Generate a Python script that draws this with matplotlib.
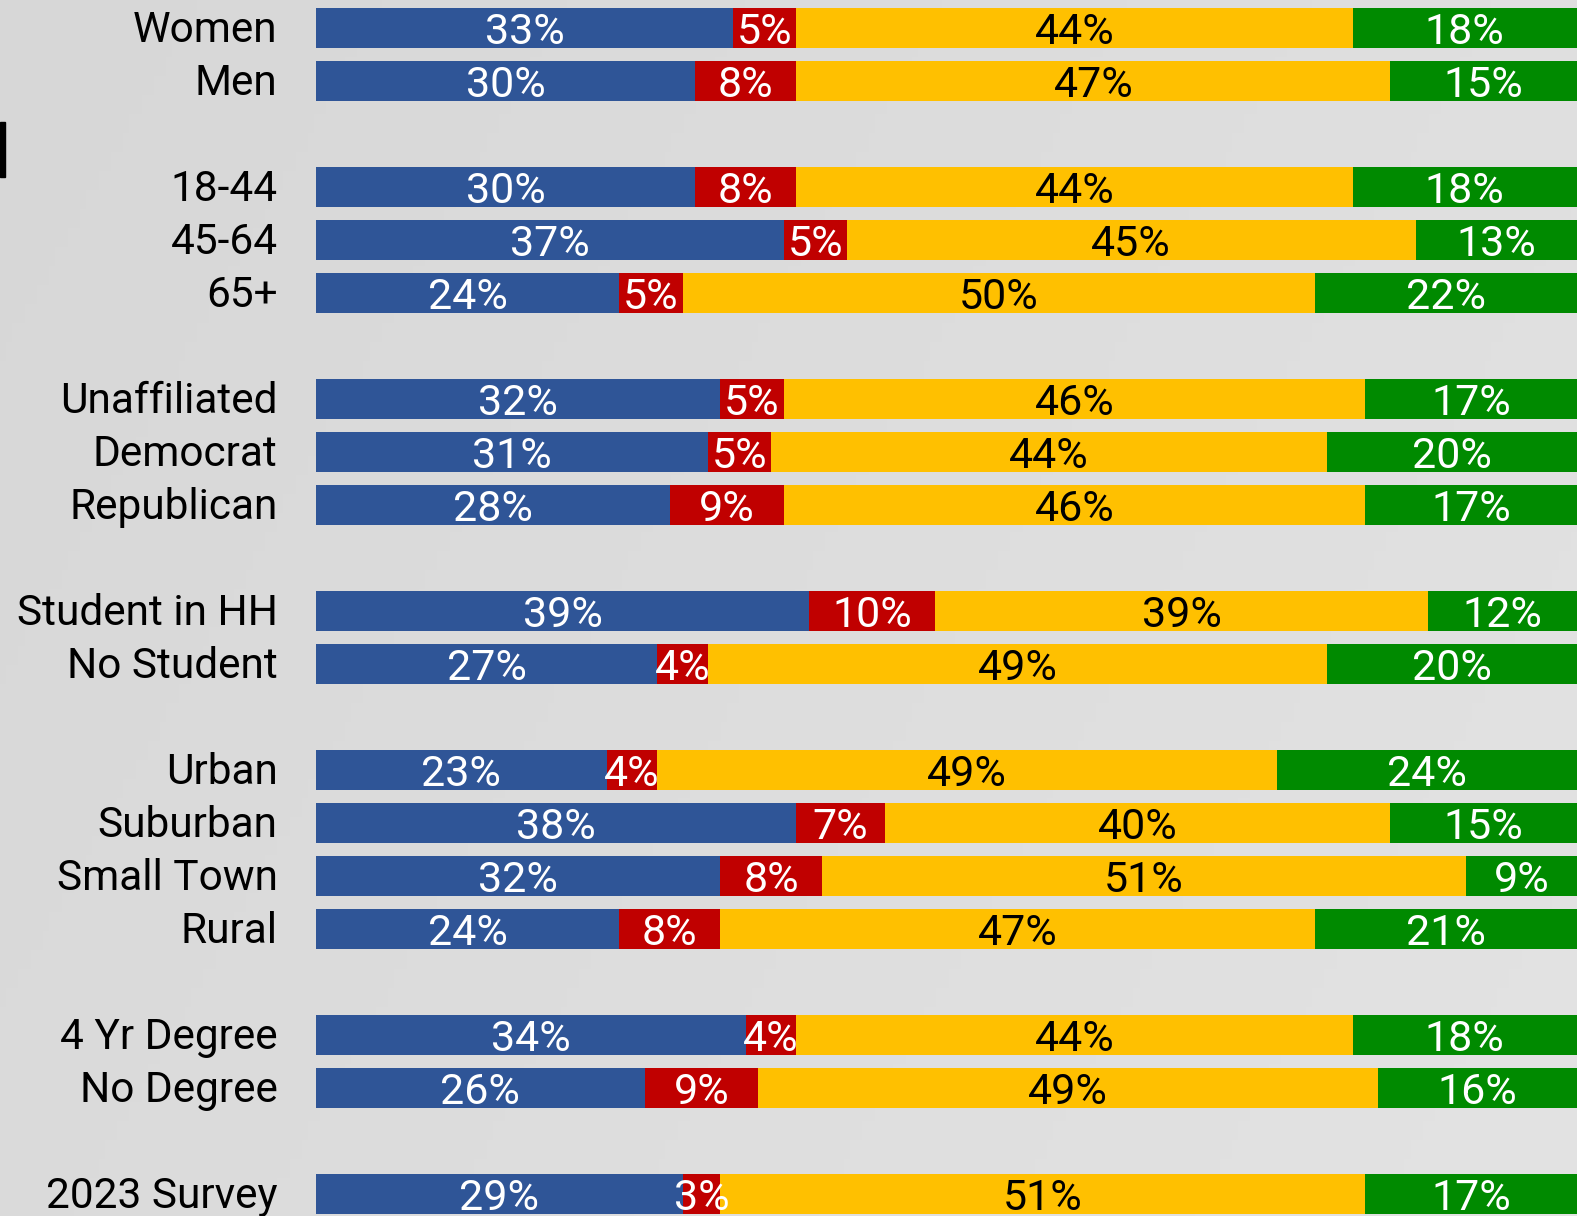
import matplotlib
matplotlib.use('Agg')
import matplotlib.pyplot as plt
from matplotlib.patches import Rectangle
import numpy as np

plt.rcParams['font.family'] = ['Roboto', 'DejaVu Sans']

# grupos demográficos (posição = linha do gráfico; linhas vazias separam grupos)
categorias = ['Women', 'Men', '18-44', '45-64', '65+', 'Unaffiliated', 'Democrat',
              'Republican', 'Student in HH', 'No Student', 'Urban', 'Suburban',
              'Small Town', 'Rural', '4 Yr Degree', 'No Degree', '2023 Survey']
linhas = [0, 1, 3, 4, 5, 7, 8, 9, 11, 12, 14, 15, 16, 17, 19, 20, 22]

azul = [33, 30, 30, 37, 24, 32, 31, 28, 39, 27, 23, 38, 32, 24, 34, 26, 29]
vermelho = [5, 8, 8, 5, 5, 5, 5, 9, 10, 4, 4, 7, 8, 8, 4, 9, 3]
amarelo = [44, 47, 44, 45, 50, 46, 44, 46, 39, 49, 49, 40, 51, 47, 44, 49, 51]
verde = [18, 15, 18, 13, 22, 17, 20, 17, 12, 20, 24, 15, 9, 21, 18, 16, 17]

series = [(azul, '#2F5597', 'white'),
          (vermelho, '#C00000', 'white'),
          (amarelo, '#FFC000', 'black'),
          (verde, '#008A00', 'white')]

W, H = 1577, 1216
fig = plt.figure(figsize=(W / 100, H / 100), dpi=100)

# fundo cinza com leve degradê
fundo = fig.add_axes([0, 0, 1, 1])
grad = np.linspace(0, 1, 256)
grad = grad[None, :] * 0.7 + np.linspace(0, 0.3, 64)[:, None]
fundo.imshow(grad, cmap=matplotlib.colors.LinearSegmentedColormap.from_list(
    'g', ['#d7d7d7', '#e3e3e3']), aspect='auto', extent=[0, 1, 0, 1])
fundo.axis('off')

x0 = 316 / W
ax = fig.add_axes([x0, 0, 1 - x0, 1])
ax.patch.set_alpha(0)

esquerda = np.zeros(len(categorias))
for valores, cor, cor_texto in series:
    barras = ax.barh(linhas, valores, left=esquerda, height=0.76, color=cor)
    rotulos = ax.bar_label(barras, labels=['{}%'.format(v) for v in valores],
                           label_type='center', color=cor_texto, fontsize=31)
    for r in rotulos:
        r.set_va('center_baseline')
    esquerda += np.array(valores)

ax.set_xlim(0, 99.76)
ax.set_ylim(22.41, -0.532)

# nomes das categorias à esquerda das barras
trans = matplotlib.transforms.blended_transform_factory(ax.transAxes, ax.transData)
for nome, y in zip(categorias, linhas):
    ax.text(-0.0305, y - 0.045, nome, transform=trans, ha='right',
            va='center_baseline', fontsize=30.5, clip_on=False)

ax.set_xticks([])
ax.set_yticks([])
for s in ax.spines.values():
    s.set_visible(False)

# pequena marca preta na borda esquerda
fig.patches.append(Rectangle((0, 1 - 177 / H), 5 / W, 55 / H,
                             transform=fig.transFigure, color='black'))

plt.savefig('out.png', dpi=100)
